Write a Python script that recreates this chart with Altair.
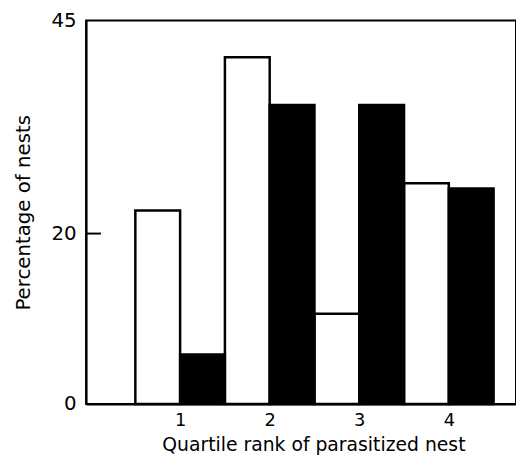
import altair as alt
import pandas as pd

quartiles = [1, 2, 3, 4]
white_vals = [22.7, 40.7, 10.6, 25.9]
black_vals = [5.8, 35.1, 35.1, 25.3]
groups = ["open", "filled"]
y_ticks = [0, 20, 45]

rows = []
for q, w, b in zip(quartiles, white_vals, black_vals):
    rows.append({"q": q, "group": "open", "pct": w})
    rows.append({"q": q, "group": "filled", "pct": b})
df = pd.DataFrame(rows)

FONT = "DejaVu Sans"
xscale = alt.Scale(domain=[-0.05, 4.75], nice=False, zero=False)
yscale = alt.Scale(domain=[0, 45], nice=False)

base = alt.Chart(df).transform_calculate(
    x0="datum.group == 'open' ? datum.q - 0.5 : datum.q",
    x1="datum.group == 'open' ? datum.q : datum.q + 0.5",
)

bars = base.mark_bar(stroke="black", strokeWidth=2.5).encode(
    x=alt.X("x0:Q", scale=xscale,
            axis=alt.Axis(values=quartiles, title="Quartile rank of parasitized nest",
                          ticks=False, grid=False, domainColor="black", domainWidth=2,
                          labelFont=FONT, labelFontSize=18, labelColor="black",
                          labelPadding=8, titleFont=FONT, titleFontSize=19,
                          titleFontWeight="normal", titleColor="black", titlePadding=6,
                          titleX=230)),
    x2="x1:Q",
    y=alt.Y("pct:Q", scale=yscale,
            axis=alt.Axis(values=y_ticks, title="Percentage of nests", ticks=False,
                          grid=False, domainColor="black", domainWidth=2,
                          labelFont=FONT, labelFontSize=20, labelColor="black",
                          labelPadding=10, titleFont=FONT, titleFontSize=20,
                          titleFontWeight="normal", titleColor="black", titlePadding=18)),
    y2=alt.datum(0),
    color=alt.Color("group:N", scale=alt.Scale(domain=groups, range=["white", "black"]),
                    legend=None),
    order=alt.Order("group:N", sort="descending"),
)

tick = alt.Chart(pd.DataFrame({"v": [20]})).mark_rule(color="black", strokeWidth=2).encode(
    y=alt.Y("v:Q", scale=yscale),
    x=alt.value(0),
    x2=alt.value(15),
)

chart = alt.layer(bars, tick).properties(
    width=435, height=388, background="white",
    padding={"left": 5, "top": 0, "right": 0, "bottom": 5},
).configure_view(stroke="black", strokeWidth=2)

chart.save("out.html", embed_options={"renderer": "svg", "actions": False})
